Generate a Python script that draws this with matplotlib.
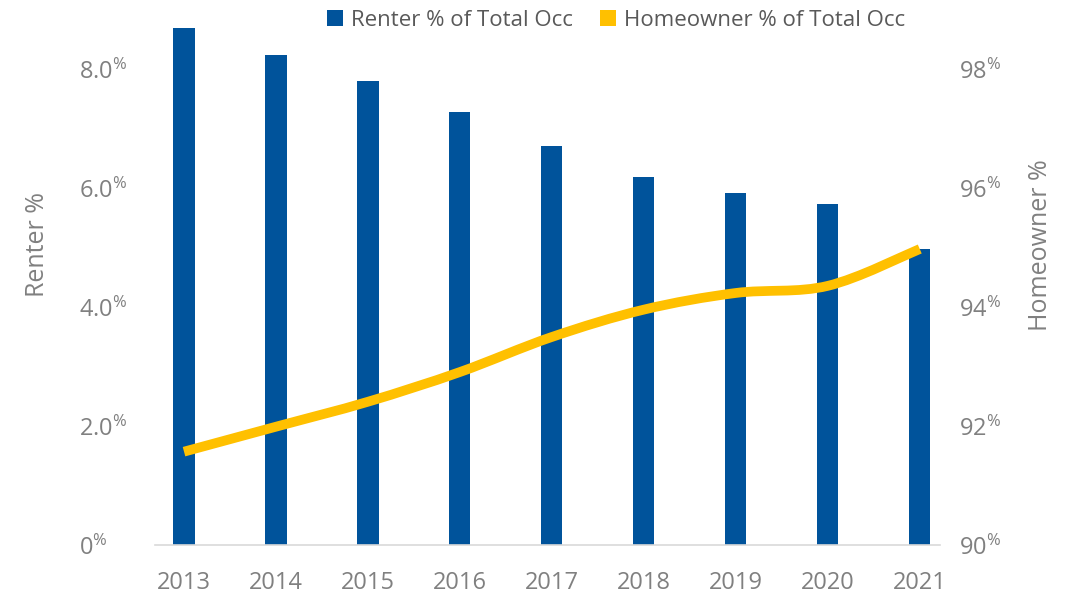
# Renter vs Homeowner share of total occupied units, bars + smooth line

import matplotlib
matplotlib.use("Agg")
import matplotlib.pyplot as plt
from matplotlib.path import Path
from matplotlib.patches import PathPatch, Patch

# ---------- dados ----------
years = ["2013", "2014", "2015", "2016", "2017", "2018", "2019", "2020", "2021"]
renter_pct = [8.70, 8.25, 7.81, 7.29, 6.72, 6.20, 5.93, 5.74, 4.98]
homeowner_pct = [91.57, 91.99, 92.41, 92.91, 93.50, 93.96, 94.24, 94.36, 94.98]

left_ticks = [0, 2, 4, 6, 8]
left_tick_labels = ["0", "2.0", "4.0", "6.0", "8.0"]
right_ticks = [90, 92, 94, 96, 98]
right_tick_labels = ["90", "92", "94", "96", "98"]

BLUE = "#00539B"
GOLD = "#FFC000"
GRAY = "#808080"
FONT = "Open Sans"

plt.rcParams["font.family"] = [FONT, "DejaVu Sans"]
plt.rcParams["mathtext.fontset"] = "custom"
plt.rcParams["mathtext.rm"] = FONT
plt.rcParams["mathtext.it"] = FONT


def smooth_path(xs, ys):
    """Curva Bezier estilo Excel (Catmull-Rom) passando pelos pontos."""
    pts = list(zip(xs, ys))
    n = len(pts)
    verts = [pts[0]]
    codes = [Path.MOVETO]
    for i in range(n - 1):
        p0 = pts[i - 1] if i > 0 else pts[i]
        p1 = pts[i]
        p2 = pts[i + 1]
        p3 = pts[i + 2] if i + 2 < n else pts[i + 1]
        c1 = (p1[0] + (p2[0] - p0[0]) / 6.0, p1[1] + (p2[1] - p0[1]) / 6.0)
        c2 = (p2[0] - (p3[0] - p1[0]) / 6.0, p2[1] - (p3[1] - p1[1]) / 6.0)
        verts += [c1, c2, p2]
        codes += [Path.CURVE4, Path.CURVE4, Path.CURVE4]
    return Path(verts, codes)


fig = plt.figure(figsize=(10.7, 5.99), dpi=100)
ax = fig.add_axes([0.1449, 0.0902, 0.7336, 0.8731])
x = list(range(len(years)))

ax.bar(x, renter_pct, width=0.23, color=BLUE, zorder=2)
ax.set_xlim(-0.315, 8.22)
ax.set_ylim(0, 8.8)

ax2 = ax.twinx()
ax2.set_ylim(90, 98.8)
patch = PathPatch(smooth_path(x, homeowner_pct), facecolor="none", edgecolor=GOLD,
                  lw=7, capstyle="butt", joinstyle="round", zorder=3)
ax2.add_patch(patch)

for a in (ax, ax2):
    for s in a.spines.values():
        s.set_visible(False)
    a.tick_params(length=0, labelsize=17, labelcolor=GRAY)
ax.spines["bottom"].set_visible(True)
ax.spines["bottom"].set_color("#D9D9D9")
ax.spines["bottom"].set_linewidth(1.2)

ax.set_xticks(x)
ax.set_xticklabels(years)
ax.tick_params(axis="x", pad=19)

ax.set_yticks(left_ticks)
ax.set_yticklabels([r"$\mathregular{%s^{\%%}}$" % t for t in left_tick_labels])
ax.tick_params(axis="y", pad=55)
for lbl in ax.get_yticklabels():
    lbl.set_horizontalalignment("left")

ax2.set_yticks(right_ticks)
ax2.set_yticklabels([r"$\mathregular{%s^{\%%}}$" % t for t in right_tick_labels])
ax2.tick_params(axis="y", pad=14)

fig.text(0.035, 0.591, "Renter %", rotation=90, ha="center", va="center",
         fontsize=18, color=GRAY)
fig.text(0.972, 0.591, "Homeowner %", rotation=90, ha="center", va="center",
         fontsize=18, color=GRAY)

handles = [Patch(facecolor=BLUE, edgecolor="none"),
           Patch(facecolor=GOLD, edgecolor="none")]
fig.legend(handles, ["Renter % of Total Occ", "Homeowner % of Total Occ"],
           loc="center", bbox_to_anchor=(0.576, 0.966), ncol=2, frameon=False,
           fontsize=16, labelcolor="#595959", handlelength=0.7, handleheight=0.7,
           handletextpad=0.4, columnspacing=1.2)

fig.savefig("out.png", dpi=100)
plt.close(fig)
